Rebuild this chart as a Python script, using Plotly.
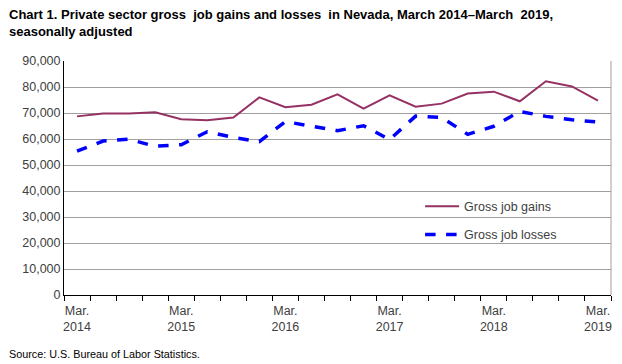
import plotly.graph_objects as go

quarters = []
for yr in range(2014, 2020):
    for m in ["Mar.", "Jun.", "Sep.", "Dec."]:
        quarters.append(f"{m} {yr}")
quarters = quarters[:21]

gains = [68700, 69800, 69800, 70300, 67600, 67200, 68300, 76000, 72200, 73200, 77200,
         71700, 76800, 72400, 73600, 77500, 78200, 74500, 82200, 80200, 74800]
losses = [55300, 59200, 59900, 57200, 57800, 62800, 60600, 59000, 66700, 65100, 63200,
          65100, 59800, 68800, 68300, 61800, 64900, 70600, 68700, 67400, 66500]

tick_text = [q.replace(" ", "<br>") if q.startswith("Mar.") else "" for q in quarters]
y_ticks = list(range(0, 90001, 10000))

fig = go.Figure()
fig.add_trace(go.Scatter(x=quarters, y=gains, mode="lines", name="Gross job gains",
                         legendgroup="g", line=dict(color="#953163", width=2)))
fig.add_trace(go.Scatter(x=quarters, y=losses, mode="lines", name="Gross job losses",
                         legendgroup="l", line=dict(color="#0000FF", width=3.5, dash="dash")))

font_fam = "Liberation Sans, Arial, sans-serif"
fig.update_layout(
    width=622, height=364,
    margin=dict(l=64, r=11, t=61, b=69),
    paper_bgcolor="white", plot_bgcolor="white",
    font=dict(family=font_fam, size=12, color="#404040"),
    showlegend=True,
    legend=dict(x=0.651, y=0.442, xanchor="left", yanchor="top",
                bgcolor="rgba(0,0,0,0)", font=dict(size=12.5, color="#404040"),
                traceorder="grouped", tracegroupgap=9, itemwidth=34),
    xaxis=dict(type="category", tickmode="array", tickvals=quarters, ticktext=tick_text,
               tickson="boundaries", ticks="outside", ticklen=5, tickcolor="#000000",
               showgrid=False, showline=True, linecolor="#000000", linewidth=1,
               range=[-0.5, 20.5], tickangle=0, mirror=False, ticklabelstandoff=4,
               tickfont=dict(size=12.5, color="#404040")),
    yaxis=dict(range=[0, 90000], tickmode="array", tickvals=y_ticks,
               ticktext=[f"{v:,}" for v in y_ticks],
               showgrid=True, gridcolor="#A0A0A0", gridwidth=1,
               showline=True, linecolor="#000000", linewidth=1,
               ticks="", zeroline=False, tickfont=dict(size=12.5, color="#404040")),
    annotations=[
        dict(text="<b>Chart 1. Private sector gross  job gains and losses  in Nevada, March 2014–March  2019,<br>seasonally adjusted</b>",
             xref="paper", yref="paper", x=0, y=1, xshift=-57, yshift=56,
             xanchor="left", yanchor="top", align="left", showarrow=False,
             font=dict(family=font_fam, size=13, color="#000000")),
        dict(text="Source: U.S. Bureau of Labor Statistics.",
             xref="paper", yref="paper", x=0, y=0, xshift=-57, yshift=-51,
             xanchor="left", yanchor="top", align="left", showarrow=False,
             font=dict(family=font_fam, size=10.8, color="#000000")),
    ],
    shapes=[dict(type="line", xref="paper", yref="paper", x0=1, x1=1, y0=0, y1=1,
                 line=dict(color="#A0A0A0", width=1))],
)

fig.write_html("out.html", config={"displayModeBar": False},
               post_script="document.body.style.margin='0';document.body.style.padding='0';")
